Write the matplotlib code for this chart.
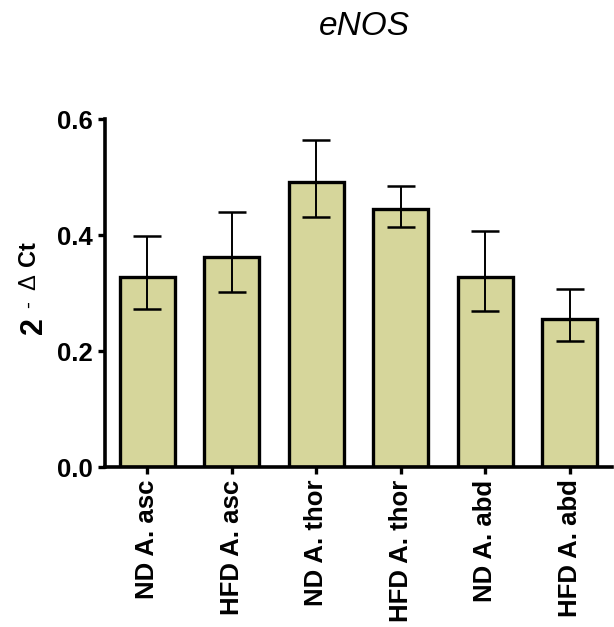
import matplotlib
matplotlib.use("Agg")
import matplotlib.pyplot as plt
from matplotlib import font_manager as fm
import os
import numpy as np

categories = ["ND A. asc", "HFD A. asc", "ND A. thor", "HFD A. thor", "ND A. abd", "HFD A. abd"]
means = [0.327, 0.362, 0.492, 0.445, 0.328, 0.255]
err_upper = [0.398, 0.440, 0.564, 0.484, 0.407, 0.307]
err_lower = [0.272, 0.302, 0.432, 0.414, 0.269, 0.217]
yticks = [0.0, 0.2, 0.4, 0.6]


def find_font(fname_key, default_family, weight='normal', style='normal'):
    for f in fm.fontManager.ttflist:
        if os.path.basename(f.fname) == fname_key:
            return fm.FontProperties(fname=f.fname)
    return fm.FontProperties(family=default_family, weight=weight, style=style)


fp_bold = find_font('LiberationSans-Bold.ttf', 'Liberation Sans', weight='bold')
fp_it = find_font('LiberationSans-Italic.ttf', 'Liberation Sans', style='italic')
fp_reg = find_font('LiberationSans-Regular.ttf', 'Liberation Sans')

fig = plt.figure(figsize=(6.14, 6.27), dpi=100)
ax = fig.add_axes([0.171, 0.255, 0.826, 0.555])

x = np.arange(len(categories))
m = np.array(means)
yerr = np.vstack([m - np.array(err_lower), np.array(err_upper) - m])
ax.bar(x, m, width=0.65, color='#D6D69B', edgecolor='black', linewidth=2.4, zorder=2)
ax.errorbar(x, m, yerr=yerr, fmt='none', ecolor='black', elinewidth=1.4,
            capsize=10, capthick=1.8, zorder=3)

ax.set_xlim(-0.5, 5.5)
ax.set_ylim(0, 0.6)
ax.set_yticks(yticks)
ax.set_yticklabels([f"{v:.1f}" for v in yticks])
ax.set_xticks(x)
ax.set_xticklabels(categories, rotation=90)
for lab in ax.get_xticklabels() + ax.get_yticklabels():
    lab.set_fontproperties(fp_bold)
    lab.set_fontsize(18.5)

for s in ['top', 'right']:
    ax.spines[s].set_visible(False)
for s in ['left', 'bottom']:
    ax.spines[s].set_linewidth(2.6)
ax.tick_params(axis='both', width=2.4, length=5, direction='out', pad=4)

# y label: "2" bold, superscript "- ΔCt"
fig.text(0.0546, 0.480, '2', fontproperties=fp_bold, fontsize=22, rotation=90,
         ha='center', va='center')
sx = 0.047
for txt, yc, fp, fs in [('-', 0.5143, fp_reg, 15), ('\u0394', 0.5494, fp_reg, 17),
                        ('Ct', 0.5949, fp_bold, 17)]:
    fig.text(sx, yc, txt, fontproperties=fp, fontsize=fs, rotation=90,
             ha='center', va='center')

t = fig.text(0.593, 0.957, 'eNOS', fontproperties=fp_it, ha='center', va='center')
t.set_fontsize(24)

fig.savefig('out.png', dpi=100)
